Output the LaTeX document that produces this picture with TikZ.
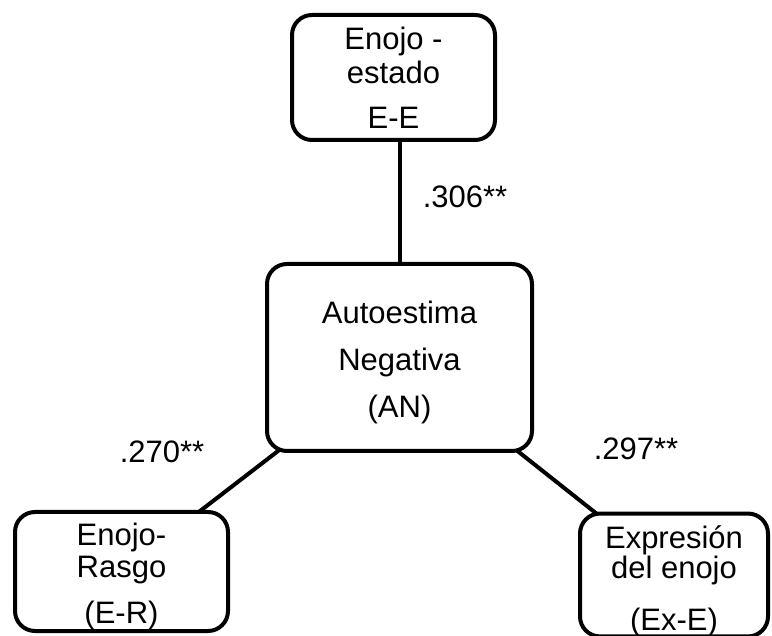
\documentclass[tikz,border=0pt]{standalone}
\usepackage{fontspec}
\setmainfont{Liberation Sans}
\usepackage{tikz}
\usetikzlibrary{backgrounds}
\tikzset{varbox/.style={draw=black,fill=white,line width=4pt,rounded corners=20pt,align=center,inner sep=0pt,font=\fontsize{31}{32}\selectfont}}
\tikzset{corr/.style={anchor=base,font=\fontsize{31}{32}\selectfont}}
\newcommand{\topstrut}[1]{\rule{0pt}{#1}}

\begin{document}
\begin{tikzpicture}[x=1pt,y=-1pt]
            \tikzstyle{every node}+=[inner sep=0pt]
            \useasboundingbox (0,0) rectangle (772,636);
            \node [varbox,minimum width=203pt,minimum height=125pt] (ee) at (393.5,77.5) {Enojo -\\[2pt]estado\\[13pt]E-E};
            \node [varbox,minimum width=265pt,minimum height=187pt] (an) at (399.5,357.5) {\topstrut{31.5pt}Autoestima\\[15pt]Negativa\\[15pt](AN)};
            \node [varbox,minimum width=213pt,minimum height=119pt] (er) at (121.5,571.5) {\topstrut{31.5pt}Enojo-\\Rasgo\\[14pt](E-R)};
            \node [varbox,minimum width=188pt,minimum height=112pt] (exe) at (674,575) {\topstrut{34.5pt}Expresi\'on\\[-2pt]del enojo\\[20pt](Ex-E)};
            \node [corr] (c1) at (465,208) {.306**};
            \node [corr] (c2) at (162,463) {.270**};
            \node [corr] (c3) at (636,460) {.297**};
            \begin{scope}[on background layer]
            \draw [black,line width=4pt] (an.center) -- (an.center |- ee.center);
            \draw [black,line width=4pt] (an.center) -- (er.center);
            \draw [black,line width=4pt] (an.center) -- (exe.center);
            \end{scope}
\end{tikzpicture}
\end{document}
